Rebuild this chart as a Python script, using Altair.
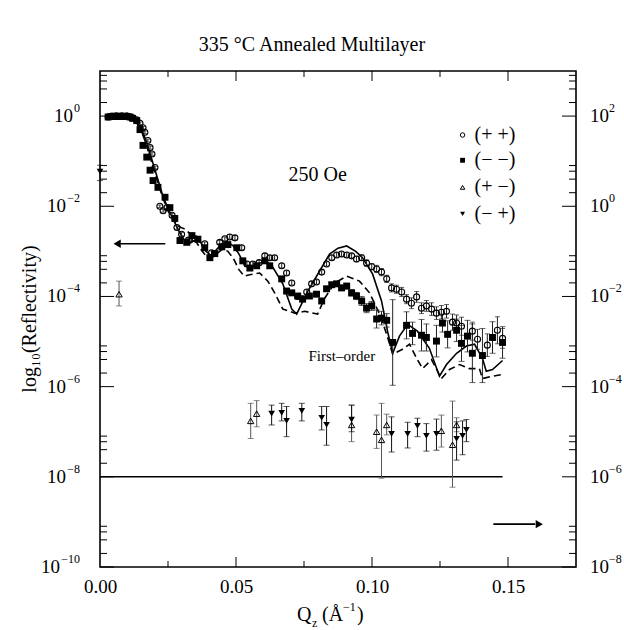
import math
import altair as alt
import pandas as pd

FONT = "Liberation Serif"
W, H = 476, 496

TITLE = "335 °C Annealed Multilayer"
FIELD_LABEL = "250 Oe"
ORDER_LABEL = "First–order"

# (+ +) open circles: Qz, log10(R), half error (decades)
pp_q = [0.003, 0.004, 0.005, 0.006, 0.007, 0.008, 0.009, 0.010, 0.011, 0.012,
        0.0135, 0.0147, 0.0158, 0.0165, 0.0176, 0.0184, 0.0191, 0.0202, 0.022, 0.0232,
        0.0246, 0.0265, 0.0283, 0.030, 0.0325, 0.035, 0.0385, 0.041, 0.044, 0.0459,
        0.0477, 0.0496, 0.0521, 0.054, 0.0562, 0.0585, 0.0606, 0.0624, 0.0642, 0.0668,
        0.0686, 0.0705, 0.0727, 0.0745, 0.076, 0.0778, 0.0796, 0.0815, 0.0833, 0.0852,
        0.087, 0.0888, 0.0907, 0.0925, 0.0943, 0.0962, 0.098, 0.0999, 0.1017, 0.1035,
        0.1054, 0.1072, 0.109, 0.1109, 0.1127, 0.1145, 0.1164, 0.1182, 0.12, 0.1219,
        0.1237, 0.1255, 0.1274, 0.1296, 0.1311, 0.1329, 0.1369, 0.1388, 0.1424, 0.1461,
        0.148]
pp_r = [-0.02, -0.01, -0.01, 0.0, -0.01, 0.0, -0.01, 0.0, -0.02, -0.04,
        -0.08, -0.16, -0.26, -0.36, -0.54, -0.70, -0.84, -1.14, -2.0, -2.1,
        -2.03, -2.2, -2.47, -2.62, -2.75, -2.72, -2.83, -3.03, -2.8, -2.72,
        -2.68, -2.7, -2.92, -3.28, -3.28, -3.25, -3.1, -3.14, -3.14, -3.32,
        -3.48, -3.7, -4.0, -4.05, -3.9, -3.72, -3.68, -3.46, -3.28, -3.14,
        -3.08, -3.06, -3.08, -3.1, -3.17, -3.14, -3.26, -3.34, -3.39, -3.46,
        -3.61, -3.81, -3.84, -3.9, -4.06, -4.15, -4.01, -4.26, -4.21, -4.28,
        -4.37, -4.35, -4.33, -4.57, -4.59, -4.66, -4.77, -4.95, -5.08, -4.75,
        -4.93]
pp_e = [0.02] * 10 + [0.03] * 10 + [0.04] * 10 + [0.05] * 10 + [0.05] * 10 + \
       [0.05, 0.05, 0.05, 0.05, 0.06, 0.06, 0.07, 0.07, 0.08, 0.08] + \
       [0.08, 0.09, 0.09, 0.1, 0.1, 0.12, 0.12, 0.12, 0.12, 0.14] + \
       [0.14, 0.15, 0.15, 0.18, 0.18, 0.2, 0.2, 0.22, 0.25, 0.3] + [0.22]

# (- -) filled squares
mm_q = [0.003, 0.004, 0.005, 0.006, 0.007, 0.008, 0.009, 0.010, 0.011, 0.012,
        0.0135, 0.0147, 0.0158, 0.0172, 0.0184, 0.0195, 0.0213, 0.0239, 0.0257, 0.0275,
        0.0294, 0.0319, 0.0338, 0.036, 0.0385, 0.0404, 0.0422, 0.0448, 0.047, 0.0503,
        0.0525, 0.0551, 0.0576, 0.0606, 0.0624, 0.0668, 0.0686, 0.0705, 0.0727, 0.0745,
        0.077, 0.0796, 0.0815, 0.0833, 0.0852, 0.087, 0.0888, 0.0907, 0.0925, 0.0943,
        0.0962, 0.098, 0.0999, 0.1017, 0.1035, 0.1054, 0.1076, 0.1127, 0.1149, 0.1182,
        0.12, 0.1237, 0.1259, 0.1278, 0.1311, 0.1329, 0.1351, 0.1369, 0.1406, 0.1443,
        0.148]
mm_r = [-0.02, -0.01, 0.0, -0.01, 0.0, -0.01, 0.0, -0.01, -0.02, -0.05,
        -0.1, -0.3, -0.65, -0.91, -1.2, -1.43, -1.58, -1.8, -2.03, -2.27,
        -2.76, -2.8, -2.65, -2.73, -2.92, -3.14, -3.05, -2.9, -2.85, -2.92,
        -3.21, -3.37, -3.32, -3.21, -3.32, -3.61, -3.88, -3.92, -3.99, -4.06,
        -3.99, -3.95, -4.1, -3.83, -3.74, -3.72, -3.81, -3.77, -3.92, -3.99,
        -4.1, -4.26, -4.21, -4.5, -4.48, -4.53, -5.02, -4.64, -4.82, -4.86,
        -4.91, -4.99, -4.59, -4.84, -4.75, -5.04, -4.88, -5.26, -5.31, -4.91,
        -5.02]
mm_e = [0.02] * 10 + [0.03] * 10 + [0.04] * 10 + [0.05] * 10 + \
       [0.05, 0.05, 0.05, 0.05, 0.05, 0.05, 0.06, 0.06, 0.07, 0.08] + \
       [0.1, 0.1, 0.1, 0.2, 0.15, 0.15, 0.95, 0.3, 0.25, 0.35] + \
       [0.3, 0.35, 0.2, 0.3, 0.25, 0.4, 0.35, 0.65, 0.6, 0.35] + [0.35]

# (+ -) open triangles with error limits
pm_q = [0.007, 0.0554, 0.0576, 0.0925, 0.1017, 0.1035, 0.1054, 0.1255, 0.1296, 0.1311]
pm_r = [-3.95, -6.76, -6.6, -6.85, -7.0, -7.18, -6.85, -6.98, -7.29, -6.85]
pm_lo = [-4.21, -7.15, -6.89, -7.22, -7.37, -8.03, -7.07, -7.34, -8.23, -7.0]
pm_hi = [-3.66, -6.37, -6.31, -6.41, -6.63, -6.37, -6.61, -6.63, -6.32, -6.69]

# (- +) filled down triangles with error limits
mp_q = [0.0, 0.0631, 0.0668, 0.0686, 0.0742, 0.0815, 0.0833, 0.0925, 0.1072, 0.1131,
        0.1167, 0.12, 0.1237, 0.1311, 0.1333, 0.1347]
mp_r = [-1.23, -6.6, -6.58, -6.76, -6.54, -6.69, -6.85, -6.73, -7.05, -7.05,
        -6.87, -7.09, -7.05, -7.16, -7.09, -6.96]
mp_lo = [-1.43, -6.85, -6.76, -7.11, -6.76, -6.96, -7.30, -7.0, -7.45, -7.36,
         -7.11, -7.43, -7.41, -7.63, -7.51, -7.22]
mp_hi = [-1.09, -6.41, -6.37, -6.44, -6.37, -6.44, -6.44, -6.41, -6.67, -6.79,
         -6.70, -6.82, -6.72, -6.78, -6.76, -6.73]

# model fits
solid_q = [0.003, 0.008, 0.011, 0.013, 0.015, 0.017, 0.019, 0.021, 0.023, 0.025,
           0.027, 0.029, 0.031, 0.033, 0.035, 0.037, 0.039, 0.041, 0.043, 0.045,
           0.047, 0.049, 0.051, 0.053, 0.055, 0.0575, 0.0606, 0.063, 0.0672, 0.0705,
           0.0723, 0.0764, 0.0808, 0.0844, 0.0875, 0.0907, 0.094, 0.0965, 0.1002, 0.1035,
           0.1057, 0.1076, 0.1101, 0.1131, 0.1167, 0.1211, 0.1248, 0.1274, 0.1311, 0.1347,
           0.1377, 0.1406, 0.142, 0.1443, 0.148]
solid_r = [-0.01, 0.0, -0.02, -0.08, -0.25, -0.55, -0.95, -1.35, -1.75, -2.05,
           -2.3, -2.55, -2.75, -2.82, -2.75, -2.8, -3.0, -3.1, -2.95, -2.82,
           -2.8, -2.88, -3.05, -3.28, -3.37, -3.3, -3.21, -3.3, -3.72, -4.28,
           -4.39, -3.88, -3.43, -3.06, -2.93, -2.88, -3.0, -3.14, -3.5, -4.1,
           -4.77, -5.26, -4.88, -4.62, -4.77, -5.15, -5.77, -5.51, -5.26, -5.1,
           -5.06, -5.37, -5.66, -5.62, -5.42]
dashed_q = [0.003, 0.008, 0.011, 0.013, 0.015, 0.017, 0.019, 0.021, 0.023, 0.025,
            0.027, 0.029, 0.031, 0.033, 0.035, 0.037, 0.039, 0.041, 0.043, 0.045,
            0.047, 0.049, 0.051, 0.053, 0.055, 0.0587, 0.0617, 0.0642, 0.0672, 0.0716,
            0.0753, 0.08, 0.0826, 0.0863, 0.0907, 0.0954, 0.0991, 0.1028, 0.1054, 0.1076,
            0.1112, 0.1138, 0.1164, 0.1186, 0.1219, 0.1255, 0.1285, 0.1322, 0.1358, 0.1395,
            0.1406, 0.1443, 0.148]
dashed_r = [-0.01, 0.0, -0.02, -0.1, -0.3, -0.62, -1.02, -1.42, -1.8, -2.1,
            -2.3, -2.45, -2.5, -2.6, -2.75, -2.95, -3.1, -3.15, -3.05, -2.95,
            -3.0, -3.15, -3.4, -3.55, -3.52, -3.48, -3.66, -3.92, -4.28, -4.37,
            -4.33, -4.39, -4.04, -3.7, -3.55, -3.66, -3.92, -4.39, -4.84, -5.28,
            -5.17, -5.06, -5.37, -5.6, -5.4, -5.82, -5.62, -5.51, -5.6, -5.6,
            -5.82, -5.77, -5.73]

# background level line
base_q = [0.0]
base_q2 = [0.148]
base_r = [-8.0]

# legend
leg_labels = ["(+ +)", "(− −)", "(+ −)", "(− +)"]
leg_r = [-0.42, -0.98, -1.58, -2.17]
leg_sym_q = 0.1333
leg_txt_q = 0.1377

# annotations
field_q, field_r = 0.080, -1.31
order_q, order_r = 0.0889, -5.33
arrowL_q, arrowL_q2, arrowL_head, arrowL_r = 0.0066, 0.0240, 0.0063, -2.83
arrowR_q, arrowR_q2, arrowR_head, arrowR_r = 0.1446, 0.1600, 0.1615, -9.05

# axes
x_ticks = [0.0, 0.05, 0.10, 0.15]
x_minor = [0.025, 0.075, 0.125]
left_vals = [-10, -8, -6, -4, -2, 0]
left_exps = ["−10", "−8", "−6", "−4", "−2", "0"]
right_vals = [-8, -6, -4, -2, 0, 2]
right_exps = ["−8", "−6", "−4", "−2", "0", "2"]
right_offset = 2  # right axis = left axis x 100
minor_mult = [2, 4, 6, 8]

xs = alt.Scale(domain=[0, 0.175], nice=False, zero=False)
ys = alt.Scale(domain=[-10, 1], nice=False, zero=False)

X_AXIS = alt.Axis(values=x_ticks, format=".2f", ticks=False, domain=False, grid=False, title="",
                  labelFont=FONT, labelFontSize=19, labelColor="black", labelPadding=10, labelFlush=False)


def X(field="q"):
    return alt.X(f"{field}:Q", scale=xs, axis=X_AXIS)


def Y(field="r"):
    return alt.Y(f"{field}:Q", scale=ys, axis=None)


def errdf(q, r, lo, hi):
    return pd.DataFrame({"q": q, "r": r, "lo": lo, "hi": hi})


pp = errdf(pp_q, pp_r, [a - b for a, b in zip(pp_r, pp_e)], [a + b for a, b in zip(pp_r, pp_e)])
mm = errdf(mm_q, mm_r, [a - b for a, b in zip(mm_r, mm_e)], [a + b for a, b in zip(mm_r, mm_e)])
pm = errdf(pm_q, pm_r, pm_lo, pm_hi)
mp = errdf(mp_q, mp_r, mp_lo, mp_hi)

layers = []

# fit lines
layers.append(alt.Chart(pd.DataFrame({"q": solid_q, "r": solid_r})).mark_line(
    color="black", strokeWidth=1.6).encode(x=X(), y=Y()))
layers.append(alt.Chart(pd.DataFrame({"q": dashed_q, "r": dashed_r})).mark_line(
    color="black", strokeWidth=1.6, strokeDash=[7, 4]).encode(x=X(), y=Y()))

# baseline
layers.append(alt.Chart(pd.DataFrame({"q": base_q, "q2": base_q2, "r": base_r})).mark_rule(
    color="black", strokeWidth=1.6).encode(x=X(), x2="q2:Q", y=Y()))

# error bars and caps
for df, cw, col in [(pp, 5, "#222"), (mm, 6, "#222"), (pm, 6, "#555"), (mp, 6, "#111")]:
    layers.append(alt.Chart(df).mark_rule(color=col, strokeWidth=1).encode(
        x=X(), y=Y("lo"), y2="hi:Q"))
    layers.append(alt.Chart(df).mark_tick(orient="horizontal", size=cw, thickness=1, color=col).encode(
        x=X(), y=Y("lo")))
    layers.append(alt.Chart(df).mark_tick(orient="horizontal", size=cw, thickness=1, color=col).encode(
        x=X(), y=Y("hi")))

# markers
layers.append(alt.Chart(mm).mark_point(shape="square", filled=True, size=48, color="black", opacity=1).encode(
    x=X(), y=Y()))
layers.append(alt.Chart(pp).mark_point(shape="circle", filled=False, size=36, color="black",
                                       strokeWidth=1.1, opacity=1).encode(x=X(), y=Y()))
layers.append(alt.Chart(pm).mark_point(shape="triangle-up", filled=False, size=40, color="black",
                                       strokeWidth=1, opacity=1).encode(x=X(), y=Y()))
layers.append(alt.Chart(mp).mark_point(shape="triangle-down", filled=True, size=44, color="black",
                                       opacity=1).encode(x=X(), y=Y()))

# legend
shapes = [("circle", False, 20), ("square", True, 24), ("triangle-up", False, 20), ("triangle-down", True, 24)]
for (shp, fil, sz), rr in zip(shapes, leg_r):
    layers.append(alt.Chart(pd.DataFrame({"q": [leg_sym_q], "r": [rr]})).mark_point(
        shape=shp, filled=fil, size=sz, color="black", strokeWidth=1, opacity=1).encode(x=X(), y=Y()))
layers.append(alt.Chart(pd.DataFrame({"q": [leg_txt_q] * 4, "r": leg_r, "t": leg_labels})).mark_text(
    font=FONT, fontSize=20, align="left", baseline="middle", color="black").encode(
    x=X(), y=Y(), text="t:N"))

# annotations
layers.append(alt.Chart(pd.DataFrame({"q": [field_q], "r": [field_r], "t": [FIELD_LABEL]})).mark_text(
    font=FONT, fontSize=20, align="center", baseline="middle", color="black").encode(x=X(), y=Y(), text="t:N"))
layers.append(alt.Chart(pd.DataFrame({"q": [order_q], "r": [order_r], "t": [ORDER_LABEL]})).mark_text(
    font=FONT, fontSize=15, align="center", baseline="middle", color="black").encode(x=X(), y=Y(), text="t:N"))

# arrows
arrows = pd.DataFrame({"q": [arrowL_q, arrowR_q], "q2": [arrowL_q2, arrowR_q2], "r": [arrowL_r, arrowR_r]})
layers.append(alt.Chart(arrows).mark_rule(color="black", strokeWidth=1.6).encode(x=X(), x2="q2:Q", y=Y()))
layers.append(alt.Chart(pd.DataFrame({"q": [arrowL_head], "r": [arrowL_r]})).mark_point(
    shape="triangle-left", filled=True, size=70, color="black", opacity=1).encode(x=X(), y=Y()))
layers.append(alt.Chart(pd.DataFrame({"q": [arrowR_head], "r": [arrowR_r]})).mark_point(
    shape="triangle-right", filled=True, size=70, color="black", opacity=1).encode(x=X(), y=Y()))

# inward ticks (left/right)
y_major = pd.DataFrame({"r": left_vals})
y_minor = pd.DataFrame({"r": [v + math.log10(m) for v in left_vals for m in minor_mult if v + math.log10(m) <= 1]})
for df, ln in [(y_major, 14), (y_minor, 7)]:
    layers.append(alt.Chart(df).mark_rule(color="black", strokeWidth=1).encode(
        y=Y(), x=alt.value(0), x2=alt.value(ln)))
    layers.append(alt.Chart(df).mark_rule(color="black", strokeWidth=1).encode(
        y=Y(), x=alt.value(W), x2=alt.value(W - ln)))
# inward ticks (top/bottom)
xm = pd.DataFrame({"q": x_ticks[1:]})
xn = pd.DataFrame({"q": x_minor})
for df, ln in [(xm, 10), (xn, 6)]:
    layers.append(alt.Chart(df).mark_rule(color="black", strokeWidth=1).encode(
        x=X(), y=alt.value(H), y2=alt.value(H - ln)))
    layers.append(alt.Chart(df).mark_rule(color="black", strokeWidth=1).encode(
        x=X(), y=alt.value(0), y2=alt.value(ln)))


# power-of-ten tick labels: "10" with a raised exponent
def exp_width(e):
    return 6 * sum(c.isdigit() for c in e) + 7 * e.count("−")


for v, e in zip(left_vals, left_exps):
    d = pd.DataFrame({"r": [v], "b": ["10"], "e": [e]})
    layers.append(alt.Chart(d).mark_text(font=FONT, fontSize=12, align="right", baseline="middle",
                                         dy=-8, color="black").encode(x=alt.value(-20), y=Y(), text="e:N"))
    layers.append(alt.Chart(d).mark_text(font=FONT, fontSize=19, align="right", baseline="middle",
                                         color="black").encode(x=alt.value(-21 - exp_width(e)), y=Y(), text="b:N"))
for v, e in zip(right_vals, right_exps):
    d = pd.DataFrame({"r": [v - right_offset], "b": ["10"], "e": [e]})
    layers.append(alt.Chart(d).mark_text(font=FONT, fontSize=19, align="left", baseline="middle",
                                         color="black").encode(x=alt.value(W + 14), y=Y(), text="b:N"))
    layers.append(alt.Chart(d).mark_text(font=FONT, fontSize=12, align="left", baseline="middle",
                                         dy=-8, color="black").encode(x=alt.value(W + 33), y=Y(), text="e:N"))

# titles as text
txt = lambda t: pd.DataFrame({"t": [t]})
layers.append(alt.Chart(txt(TITLE)).mark_text(font=FONT, fontSize=20, align="center", baseline="middle",
                                              color="black").encode(x=alt.value(212), y=alt.value(-26), text="t:N"))
layers.append(alt.Chart(txt("log₁₀(Reflectivity)")).mark_text(
    font=FONT, fontSize=20, align="center", baseline="middle", angle=270, color="black").encode(
    x=alt.value(-70), y=alt.value(H / 2), text="t:N"))
layers.append(alt.Chart(txt("Q")).mark_text(font=FONT, fontSize=20, align="left", baseline="middle",
                                            color="black").encode(x=alt.value(197), y=alt.value(544), text="t:N"))
layers.append(alt.Chart(txt("z")).mark_text(font=FONT, fontSize=12, align="left", baseline="middle",
                                            color="black").encode(x=alt.value(212), y=alt.value(552), text="t:N"))
layers.append(alt.Chart(txt("(Å")).mark_text(font=FONT, fontSize=20, align="left", baseline="middle",
                                             color="black").encode(x=alt.value(222), y=alt.value(544), text="t:N"))
layers.append(alt.Chart(txt("−1")).mark_text(font=FONT, fontSize=12, align="left", baseline="middle",
                                             color="black").encode(x=alt.value(243), y=alt.value(536), text="t:N"))
layers.append(alt.Chart(txt(")")).mark_text(font=FONT, fontSize=20, align="left", baseline="middle",
                                            color="black").encode(x=alt.value(257), y=alt.value(544), text="t:N"))

chart = alt.layer(*layers).properties(
    width=W, height=H,
    padding={"left": 100, "top": 71, "right": 48, "bottom": 63},
    autosize=alt.AutoSizeParams(type="none"),
    background="white",
).configure_view(stroke="black", strokeWidth=1.6)

chart.save("out.html", embed_options={"renderer": "svg", "actions": False})
